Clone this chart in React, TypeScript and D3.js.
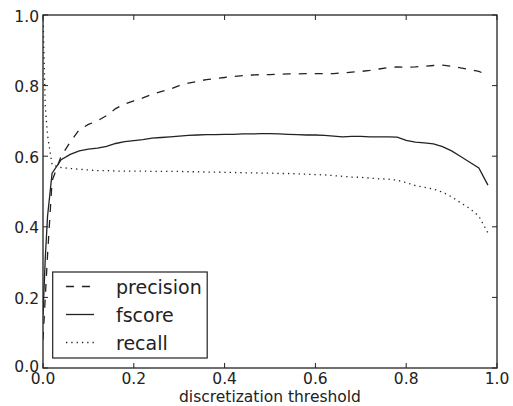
import React from "react";
import * as d3 from "d3";

const xs = [0, 0.005, 0.01, 0.02, 0.04, 0.06, 0.08, 0.1, 0.12, 0.14, 0.16, 0.18, 0.2, 0.22, 0.24, 0.26, 0.28, 0.3, 0.32, 0.34, 0.36, 0.38, 0.4, 0.42, 0.44, 0.46, 0.48, 0.5, 0.52, 0.54, 0.56, 0.58, 0.6, 0.62, 0.64, 0.66, 0.68, 0.7, 0.72, 0.74, 0.76, 0.78, 0.8, 0.82, 0.84, 0.86, 0.88, 0.9, 0.92, 0.94, 0.96, 0.98];

const precision = [0.08, 0.2, 0.32, 0.53, 0.6, 0.64, 0.675, 0.69, 0.7, 0.715, 0.735, 0.748, 0.757, 0.765, 0.775, 0.783, 0.79, 0.8, 0.807, 0.812, 0.817, 0.82, 0.823, 0.826, 0.828, 0.83, 0.831, 0.831, 0.832, 0.833, 0.833, 0.834, 0.834, 0.834, 0.834, 0.836, 0.838, 0.84, 0.843, 0.847, 0.851, 0.853, 0.852, 0.853, 0.855, 0.857, 0.858, 0.855, 0.85, 0.846, 0.84, 0.83];

const fscore = [0.15, 0.31, 0.43, 0.552, 0.59, 0.605, 0.615, 0.62, 0.623, 0.628, 0.636, 0.641, 0.644, 0.647, 0.651, 0.653, 0.655, 0.657, 0.659, 0.66, 0.661, 0.661, 0.662, 0.662, 0.663, 0.663, 0.664, 0.664, 0.663, 0.662, 0.661, 0.66, 0.66, 0.659, 0.657, 0.655, 0.656, 0.656, 0.655, 0.655, 0.655, 0.654, 0.645, 0.64, 0.638, 0.635, 0.627, 0.615, 0.599, 0.583, 0.567, 0.518];

const recall = [1.0, 0.74, 0.66, 0.575, 0.568, 0.565, 0.563, 0.561, 0.559, 0.559, 0.558, 0.558, 0.558, 0.558, 0.557, 0.557, 0.557, 0.557, 0.556, 0.556, 0.555, 0.555, 0.554, 0.554, 0.553, 0.553, 0.552, 0.552, 0.551, 0.551, 0.55, 0.549, 0.548, 0.547, 0.545, 0.543, 0.541, 0.54, 0.538, 0.536, 0.535, 0.532, 0.525, 0.517, 0.512, 0.507, 0.498, 0.485, 0.468, 0.452, 0.43, 0.383];

const xTicks = [0, 0.2, 0.4, 0.6, 0.8, 1.0];
const yTicks = [0, 0.2, 0.4, 0.6, 0.8, 1.0];
const seriesNames = ["precision", "fscore", "recall"];

const W = 513, H = 406;
const L = 43, R = 497, T = 15, B = 368;
const FONT = "DejaVu Sans, sans-serif";
const INK = "#222";

export default function App() {
  const x = d3.scaleLinear().domain([0, 1]).range([L, R]);
  const y = d3.scaleLinear().domain([0, 1]).range([B, T]);
  const mk = (vals: number[]) =>
    d3.line<number>().x((_, i) => x(xs[i])).y((v) => y(v))(vals) || "";
  const series = [
    { name: seriesNames[0], vals: precision, dash: "8,8" },
    { name: seriesNames[1], vals: fscore, dash: "" },
    { name: seriesNames[2], vals: recall, dash: "1.3,4" },
  ];
  const fmt = d3.format(".1f");
  return (
    <svg width={W} height={H} style={{ position: "absolute", left: 0, top: 0, background: "#fff" }}>
      <defs>
        <clipPath id="plotclip">
          <rect x={L} y={T} width={R - L} height={B - T} />
        </clipPath>
      </defs>
      <rect x={0} y={0} width={W} height={H} fill="#fff" />
      <g clipPath="url(#plotclip)">
        {series.map((s) => (
          <path key={s.name} d={mk(s.vals)} fill="none" stroke={INK} strokeWidth={1.3}
            strokeDasharray={s.dash || undefined} />
        ))}
      </g>
      {xTicks.map((t) => (
        <g key={"xt" + t}>
          <line x1={x(t)} x2={x(t)} y1={B} y2={B - 5} stroke={INK} strokeWidth={1} />
          <line x1={x(t)} x2={x(t)} y1={T} y2={T + 5} stroke={INK} strokeWidth={1} />
          <text x={x(t)} y={384} textAnchor="middle" fontFamily={FONT} fontSize={15.5} fill={INK}>{fmt(t)}</text>
        </g>
      ))}
      {yTicks.map((t) => (
        <g key={"yt" + t}>
          <line x1={L} x2={L + 5} y1={y(t)} y2={y(t)} stroke={INK} strokeWidth={1} />
          <line x1={R} x2={R - 5} y1={y(t)} y2={y(t)} stroke={INK} strokeWidth={1} />
          <text x={39} y={t === 0 ? y(t) + 4 : y(t) + 6.5} textAnchor="end" fontFamily={FONT} fontSize={15.5} fill={INK}>{fmt(t)}</text>
        </g>
      ))}
      <rect x={L} y={T} width={R - L} height={B - T} fill="none" stroke={INK} strokeWidth={1.3} />
      <text x={(L + R) / 2} y={401.5} textAnchor="middle" fontFamily={FONT} fontSize={15.5} fill={INK}>discretization threshold</text>
      <rect x={52.7} y={272} width={154.5} height={86} fill="#fff" stroke={INK} strokeWidth={1.2} />
      {series.map((s, i) => {
        const ly = 286.5 + i * 28;
        return (
          <g key={"lg" + s.name}>
            <line x1={66} x2={94} y1={ly} y2={ly} stroke={INK} strokeWidth={1.3} strokeDasharray={s.dash || undefined} />
            <text x={116} y={ly + 7.5} fontFamily={FONT} fontSize={19} fill={INK}>{s.name}</text>
          </g>
        );
      })}
    </svg>
  );
}
